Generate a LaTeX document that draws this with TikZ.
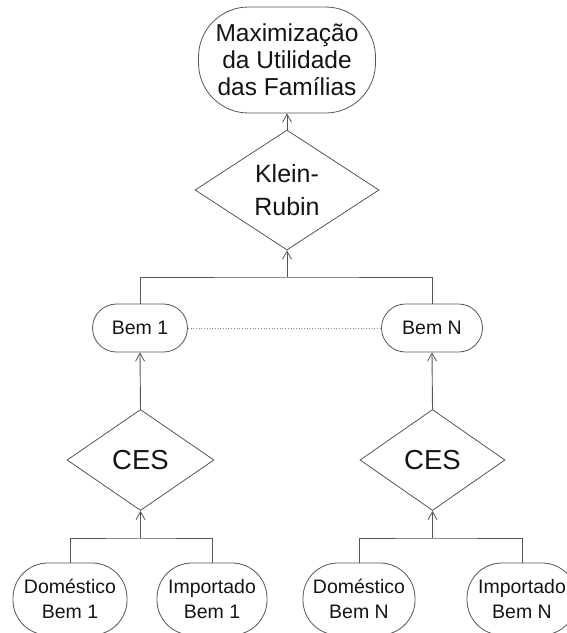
\documentclass[tikz,border=0pt]{standalone}
\usepackage{fontspec}
\setmainfont{Liberation Sans}
\usetikzlibrary{shapes.geometric,arrows.meta}
\definecolor{ln}{HTML}{555555}
\definecolor{tx}{HTML}{141414}
\begin{document}
\begin{tikzpicture}[x=1pt,y=-1pt,
  every node/.style={text=tx,align=center,inner sep=0pt},
  box/.style={draw=ln,line width=0.8pt},
  dia/.style={draw=ln,line width=0.8pt,diamond,inner sep=0pt},
  conn/.style={draw=ln,line width=0.9pt},
  arr/.style={conn,-{Straight Barb[length=8pt,width=9pt,line width=0.8pt]}},
  f24/.style={font=\fontsize{24.5}{27}\selectfont},
  f25/.style={font=\fontsize{25}{33}\selectfont},
  f19/.style={font=\fontsize{19.5}{25}\selectfont},
  f27/.style={font=\fontsize{27.5}{30}\selectfont}]
\useasboundingbox (0,0) rectangle (567,633);
% top
\node[box,rounded corners=50pt,minimum width=177pt,minimum height=106pt,f24] (top) at (287,60)
  {Maximização\\da Utilidade\\das Famílias};
\node[dia,minimum width=184pt,minimum height=120pt,f25] (kr) at (287,190) {Klein-\\Rubin};
% middle
\node[box,rounded corners=24pt,minimum width=95pt,minimum height=48pt,f19] (b1) at (140,328) {Bem 1};
\node[box,rounded corners=24pt,minimum width=101pt,minimum height=48pt,f19] (bn) at (432,328) {Bem N};
% CES
\node[dia,minimum width=147pt,minimum height=101pt,f27] (c1) at (140.5,460) {CES};
\node[dia,minimum width=145pt,minimum height=101pt,f27] (cn) at (432.5,460) {CES};
% bottom
\node[box,rounded corners=35pt,minimum width=114pt,minimum height=72pt,f19] (d1) at (70,599) {Doméstico\\Bem 1};
\node[box,rounded corners=35pt,minimum width=110pt,minimum height=72pt,f19] (i1) at (212,599) {Importado\\Bem 1};
\node[box,rounded corners=35pt,minimum width=112pt,minimum height=72pt,f19] (dn) at (359,599) {Doméstico\\Bem N};
\node[box,rounded corners=35pt,minimum width=110pt,minimum height=72pt,f19] (inn) at (522,599) {Importado\\Bem N};
% junctions
\coordinate (j0) at (287,277);
\coordinate (j1) at (140.5,538);
\coordinate (j2) at (432.5,538);
% connectors
\draw[arr] (kr.north) -- (top.south);
\draw[conn] (b1.north) |- (j0) -| (bn.north);
\draw[arr] (j0) -- (kr.south);
\draw[draw=ln!70,line width=0.7pt,dotted] (b1.east) -- (bn.west);
\draw[arr] (c1.north) -- (b1.south);
\draw[arr] (cn.north) -- (bn.south);
\draw[conn] (d1.north) |- (j1) -| (i1.north);
\draw[arr] (j1) -- (c1.south);
\draw[conn] (dn.north) |- (j2) -| (inn.north);
\draw[arr] (j2) -- (cn.south);
\end{tikzpicture}
\end{document}
